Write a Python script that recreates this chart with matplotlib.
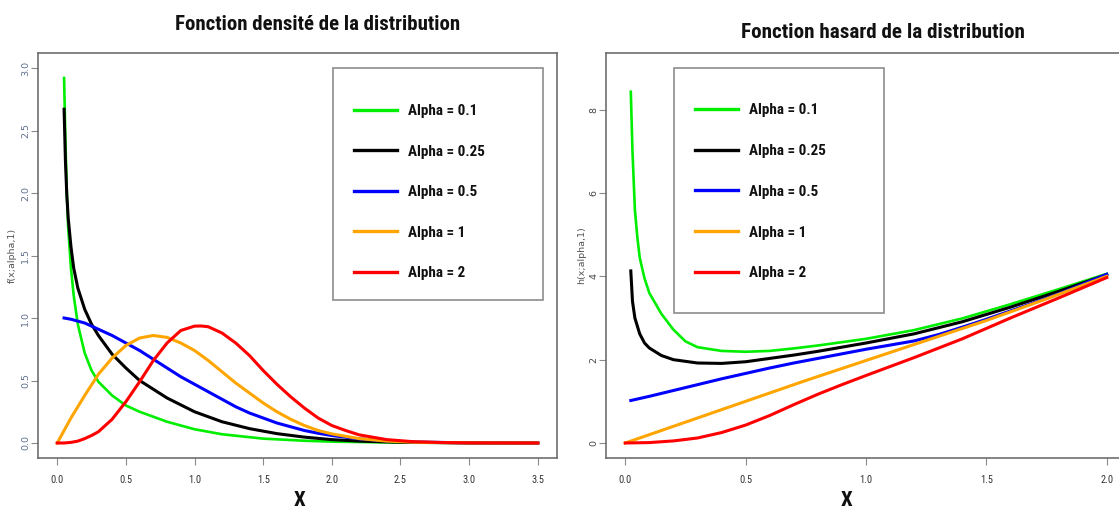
import matplotlib
matplotlib.use("Agg")
import matplotlib.pyplot as plt
import matplotlib.font_manager as fm
from matplotlib.patches import Rectangle
from matplotlib.font_manager import FontProperties

# ---------------- data ----------------
labels = ["Alpha = 0.1", "Alpha = 0.25", "Alpha = 0.5", "Alpha = 1", "Alpha = 2"]
colors = ["#00ee00", "#000000", "#0000ff", "#ffa500", "#ff0000"]

# density panel
dens_x_g = [0.05, 0.06, 0.07, 0.08, 0.1, 0.12, 0.15, 0.2, 0.25, 0.3, 0.4, 0.5, 0.6, 0.8, 1.0, 1.2, 1.5, 1.8, 2.0, 2.5, 3.0, 3.5]
dens_y_g = [2.92, 2.40, 2.00, 1.72, 1.40, 1.18, 0.95, 0.72, 0.58, 0.49, 0.38, 0.30, 0.25, 0.17, 0.11, 0.07, 0.035, 0.018, 0.011, 0.003, 0.001, 0.0]
dens_x_k = [0.05, 0.06, 0.07, 0.08, 0.1, 0.12, 0.15, 0.2, 0.25, 0.3, 0.4, 0.5, 0.6, 0.7, 0.8, 1.0, 1.2, 1.4, 1.6, 1.8, 2.0, 2.2, 2.5, 3.0, 3.5]
dens_y_k = [2.67, 2.25, 1.98, 1.80, 1.57, 1.40, 1.24, 1.07, 0.95, 0.86, 0.71, 0.60, 0.50, 0.43, 0.36, 0.25, 0.17, 0.115, 0.075, 0.047, 0.027, 0.015, 0.006, 0.001, 0.0]
dens_x_b = [0.05, 0.1, 0.2, 0.3, 0.4, 0.5, 0.6, 0.7, 0.8, 0.9, 1.0, 1.1, 1.2, 1.3, 1.4, 1.5, 1.6, 1.7, 1.8, 1.9, 2.0, 2.2, 2.4, 2.6, 3.0, 3.5]
dens_y_b = [1.00, 0.99, 0.96, 0.91, 0.86, 0.80, 0.74, 0.67, 0.60, 0.53, 0.47, 0.41, 0.35, 0.29, 0.24, 0.20, 0.16, 0.13, 0.10, 0.078, 0.06, 0.033, 0.017, 0.008, 0.001, 0.0]
dens_x_o = [0.0, 0.05, 0.1, 0.2, 0.3, 0.4, 0.5, 0.6, 0.7, 0.8, 0.9, 1.0, 1.1, 1.2, 1.3, 1.4, 1.5, 1.6, 1.7, 1.8, 1.9, 2.0, 2.2, 2.4, 2.6, 3.0, 3.5]
dens_y_o = [0.0, 0.10, 0.20, 0.38, 0.55, 0.68, 0.78, 0.84, 0.86, 0.845, 0.80, 0.74, 0.66, 0.57, 0.48, 0.40, 0.32, 0.25, 0.19, 0.14, 0.10, 0.073, 0.035, 0.015, 0.006, 0.001, 0.0]
dens_x_r = [0.0, 0.05, 0.1, 0.15, 0.2, 0.25, 0.3, 0.4, 0.5, 0.6, 0.7, 0.8, 0.9, 1.0, 1.05, 1.1, 1.2, 1.3, 1.4, 1.5, 1.6, 1.7, 1.8, 1.9, 2.0, 2.1, 2.2, 2.4, 2.6, 2.8, 3.0, 3.5]
dens_y_r = [0.0, 0.0, 0.005, 0.015, 0.035, 0.06, 0.09, 0.19, 0.33, 0.49, 0.66, 0.80, 0.90, 0.935, 0.936, 0.93, 0.88, 0.80, 0.70, 0.58, 0.47, 0.37, 0.28, 0.20, 0.14, 0.10, 0.065, 0.027, 0.01, 0.004, 0.001, 0.0]

# hazard panel
haz_x_g = [0.023, 0.03, 0.04, 0.05, 0.06, 0.08, 0.1, 0.15, 0.2, 0.25, 0.3, 0.4, 0.5, 0.6, 0.7, 0.8, 0.9, 1.0, 1.2, 1.4, 1.6, 1.8, 2.0]
haz_y_g = [8.43, 7.0, 5.6, 4.95, 4.45, 3.95, 3.6, 3.1, 2.72, 2.44, 2.30, 2.21, 2.19, 2.21, 2.27, 2.34, 2.42, 2.50, 2.71, 2.99, 3.33, 3.69, 4.06]
haz_x_k = [0.023, 0.03, 0.04, 0.06, 0.08, 0.1, 0.15, 0.2, 0.3, 0.4, 0.5, 0.6, 0.7, 0.8, 0.9, 1.0, 1.2, 1.4, 1.6, 1.8, 2.0]
haz_y_k = [4.13, 3.40, 3.00, 2.62, 2.40, 2.28, 2.10, 2.00, 1.92, 1.91, 1.95, 2.03, 2.11, 2.20, 2.30, 2.40, 2.62, 2.91, 3.26, 3.64, 4.04]
haz_x_b = [0.023, 0.1, 0.2, 0.3, 0.4, 0.5, 0.6, 0.7, 0.8, 0.9, 1.0, 1.1, 1.2, 1.3, 1.4, 1.5, 1.6, 1.7, 1.8, 1.9, 2.0]
haz_y_b = [1.02, 1.12, 1.26, 1.40, 1.54, 1.67, 1.80, 1.92, 2.03, 2.14, 2.25, 2.35, 2.45, 2.60, 2.78, 2.97, 3.17, 3.37, 3.58, 3.81, 4.05]
haz_x_o = [0.0, 0.25, 0.5, 0.75, 1.0, 1.25, 1.5, 1.75, 2.0]
haz_y_o = [0.0, 0.50, 1.00, 1.50, 1.98, 2.46, 2.94, 3.46, 4.0]
haz_x_r = [0.0, 0.1, 0.2, 0.3, 0.4, 0.5, 0.6, 0.7, 0.8, 0.9, 1.0, 1.2, 1.4, 1.6, 1.8, 2.0]
haz_y_r = [0.0, 0.01, 0.05, 0.12, 0.25, 0.43, 0.66, 0.92, 1.17, 1.40, 1.62, 2.05, 2.50, 3.00, 3.48, 3.97]

dens_x_ticks = [0.0, 0.5, 1.0, 1.5, 2.0, 2.5, 3.0, 3.5]
dens_y_ticks = [0.0, 0.5, 1.0, 1.5, 2.0, 2.5, 3.0]
haz_x_ticks = [0.0, 0.5, 1.0, 1.5, 2.0]
haz_y_ticks = [0, 2, 4, 6, 8]

# ---------------- fonts ----------------
available = {f.name for f in fm.fontManager.ttflist}
narrow_pref = ["Liberation Sans Narrow", "Roboto Condensed", "Open Sans Condensed",
               "DejaVu Sans Condensed", "Noto Sans Condensed", "Lato", "Roboto"]
NARROW_NAME = next((n for n in narrow_pref if n in available), "DejaVu Sans")
NARROW = [NARROW_NAME, "DejaVu Sans"]

# ---------------- figure ----------------
W, H = 1119, 511
fig = plt.figure(figsize=(W / 100, H / 100), dpi=100)
renderer = fig.canvas.get_renderer()
FRAME = "#6e6e6e"


def px_ax(x0, y0, x1, y1):
    return fig.add_axes([x0 / W, 1 - y1 / H, (x1 - x0) / W, (y1 - y0) / H])


def style(ax, xt, yt, ylab, ycol):
    for s in ax.spines.values():
        s.set_color(FRAME)
        s.set_linewidth(1.2)
    ax.set_xticks(xt)
    ax.set_yticks(yt)
    ax.set_xticklabels([f"{v:.1f}" for v in xt], family=NARROW, fontsize=7.5, color="#333333")
    ylbl = [f"{v:.1f}" if isinstance(v, float) else str(v) for v in yt]
    ax.set_yticklabels(ylbl, family="DejaVu Sans", fontsize=6.8, color=ycol,
                       rotation=90, va="center")
    ax.tick_params(direction="out", width=0.8, color="#8a8a8a", length=5)
    ax.tick_params(axis="x", pad=7)
    ax.tick_params(axis="y", pad=0.5)
    ax.set_ylabel(ylab, family="DejaVu Sans", fontsize=6.8, color="#555555")


def fit_text(t, target_w):
    for _ in range(3):
        w = t.get_window_extent(renderer).width
        t.set_fontsize(t.get_fontsize() * target_w / w)


# left panel
AX1 = (38, 53, 557, 458)
ax1 = px_ax(*AX1)
series1 = [(dens_x_g, dens_y_g), (dens_x_k, dens_y_k), (dens_x_b, dens_y_b),
           (dens_x_o, dens_y_o), (dens_x_r, dens_y_r)]
lines1 = []
for (xs, ys), c, lab in zip(series1, colors, labels):
    ln, = ax1.plot(xs, ys, color=c, lw=2.2 if c != "#00ee00" else 1.9, label=lab,
                   solid_joinstyle="round")
    lines1.append(ln)
ax1.set_xlim(-0.14, 3.64)
ax1.set_ylim(-0.12, 3.12)
style(ax1, dens_x_ticks, dens_y_ticks, "f(x;alpha,1)", "#5f6f8f")

# right panel (its right edge is cut by the picture border)
AX2 = (606, 53, 1126, 458)
ax2 = px_ax(*AX2)
series2 = [(haz_x_g, haz_y_g), (haz_x_k, haz_y_k), (haz_x_b, haz_y_b),
           (haz_x_o, haz_y_o), (haz_x_r, haz_y_r)]
lines2 = []
for (xs, ys), c, lab in zip(series2, colors, labels):
    ln, = ax2.plot(xs, ys, color=c, lw=2.2 if c != "#00ee00" else 1.9, label=lab,
                   solid_joinstyle="round")
    lines2.append(ln)
ax2.set_xlim(-0.08, 2.08)
ax2.set_ylim(-0.36, 9.36)
style(ax2, haz_x_ticks, haz_y_ticks, "h(x;alpha,1)", "#444444")

# legend font size fitted so "Alpha = 0.25" is about 77 px wide
probe = fig.text(0, 0, "Alpha = 0.25", family=NARROW, weight="bold", fontsize=11)
fit_text(probe, 77)
LEG_FS = probe.get_fontsize()
probe.remove()
legfont = FontProperties(family=NARROW, weight="bold", size=LEG_FS)


def add_legend(ax, handles, box_px, hx_px, rows_px, ax_px):
    ax0x, ax0y, ax1x, ax1y = ax_px
    aw, ah = ax1x - ax0x, ax1y - ax0y
    bx0, by0, bx1, by1 = box_px
    ax.add_patch(Rectangle(((bx0 - ax0x) / aw, (ax1y - by1) / ah), (bx1 - bx0) / aw,
                           (by1 - by0) / ah, transform=ax.transAxes, fill=False,
                           ec="#8c8c8c", lw=1.2, zorder=5, clip_on=False))
    spacing = 1.6
    top = rows_px[0] - 10
    leg = None
    for _ in range(4):
        if leg is not None:
            leg.remove()
        leg = ax.legend(handles=handles, loc="upper left",
                        bbox_to_anchor=((hx_px - ax0x) / aw, (ax1y - top) / ah),
                        frameon=False, prop=legfont, handlelength=43 / (LEG_FS * 100 / 72),
                        handletextpad=0.75, labelspacing=spacing, borderpad=0.0,
                        borderaxespad=0.0)
        fig.canvas.draw()
        hs = leg.legend_handles
        ys = [H - 0.5 * (h.get_window_extent(renderer).y0 + h.get_window_extent(renderer).y1)
              for h in hs]
        fs_px = LEG_FS * 100 / 72
        step = (ys[-1] - ys[0]) / (len(ys) - 1)
        target = (rows_px[-1] - rows_px[0]) / (len(rows_px) - 1)
        spacing += (target - step) / fs_px
        top += rows_px[0] - ys[0]
    for t in leg.get_texts():
        t.set_color("#111111")
    for h in leg.legend_handles:
        h.set_linewidth(2.4)
    return leg


add_legend(ax1, lines1, (333, 68, 543, 300), 354, [110, 150, 191, 232, 272], AX1)
add_legend(ax2, lines2, (674, 68, 884, 313), 695, [109, 149, 191, 232, 272], AX2)

# axis labels
for ax, xc in ((ax1, (300 - 38) / 519), (ax2, (847 - 606) / 520)):
    ax.set_xlabel("X", family=NARROW, weight="bold", fontsize=15, color="#111111")
    ax.xaxis.set_label_coords(xc, -(501 - 458) / 405)
    ax.xaxis.label.set_va("center")

ax1.yaxis.set_label_coords(-(38 - 17) / 519, 0.5)
ax2.yaxis.set_label_coords(-(606 - 586) / 520, 0.5)

# titles, fitted to the reference widths
t1 = fig.text(318 / W, 1 - 24 / H, "Fonction densité de la distribution", family=NARROW,
              weight="bold", fontsize=15.5, ha="center", va="center", color="#111111")
t2 = fig.text(883 / W, 1 - 32 / H, "Fonction hasard de la distribution", family=NARROW,
              weight="bold", fontsize=15.5, ha="center", va="center", color="#111111")
fit_text(t1, 287)
fit_text(t2, 282)

fig.savefig("out.png", dpi=100)
